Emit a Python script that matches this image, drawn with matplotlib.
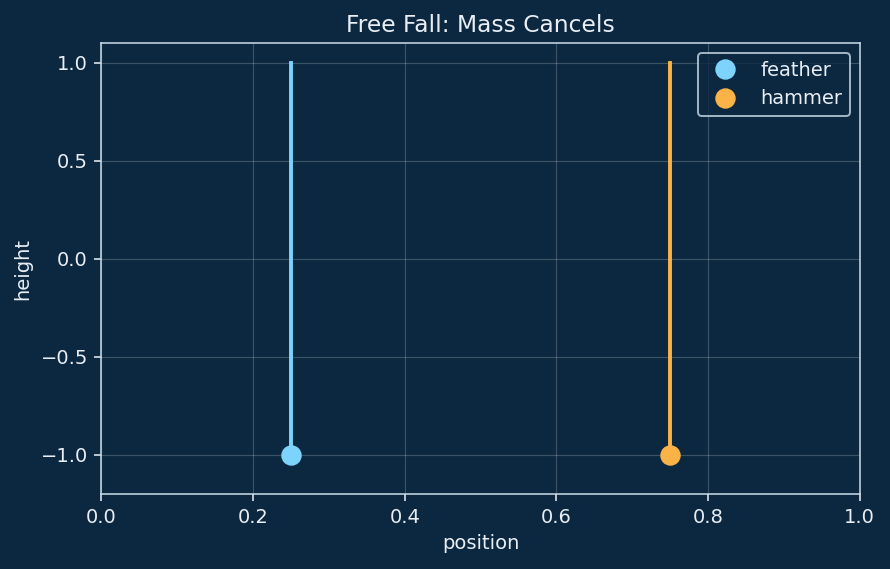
import matplotlib
matplotlib.use("Agg")
import matplotlib.pyplot as plt

plt.rcParams['font.family'] = ['DejaVu Sans']

# bodies dropped from the same height, current frame at the floor
names = ["feather", "hammer"]
x_pos = [0.25, 0.75]
start_height = [1.0, 1.0]
current_height = [-1.0, -1.0]
colors = ["#7dd3fc", "#fbb347"]

bg = "#0c2840"
fg = "#e8eef4"

fig, ax = plt.subplots(figsize=(890 / 140, 569 / 140), dpi=140)
fig.patch.set_facecolor(bg)
ax.set_facecolor(bg)

for name, x, y0, y1, c in zip(names, x_pos, start_height, current_height, colors):
    ax.plot([x, x], [y0, y1], color=c, linewidth=2)
    ax.plot([x], [y1], "o", color=c, markersize=9.5, label=name)

ax.set_xlim(0, 1)
ax.set_ylim(-1.2, 1.1)
ax.set_xlabel("position", color=fg)
ax.set_ylabel("height", color=fg)
ax.set_title("Free Fall: Mass Cancels", color=fg)
ax.tick_params(colors=fg)
for s in ax.spines.values():
    s.set_color("#c9dbe9")
ax.grid(True, color="white", alpha=0.2, linewidth=0.6)

leg = ax.legend(loc="upper right", facecolor=bg, edgecolor="#c9dbe9", labelcolor=fg)

fig.subplots_adjust(left=0.114, right=0.966, top=0.924, bottom=0.132)
fig.savefig("out.png", dpi=140, facecolor=bg)
